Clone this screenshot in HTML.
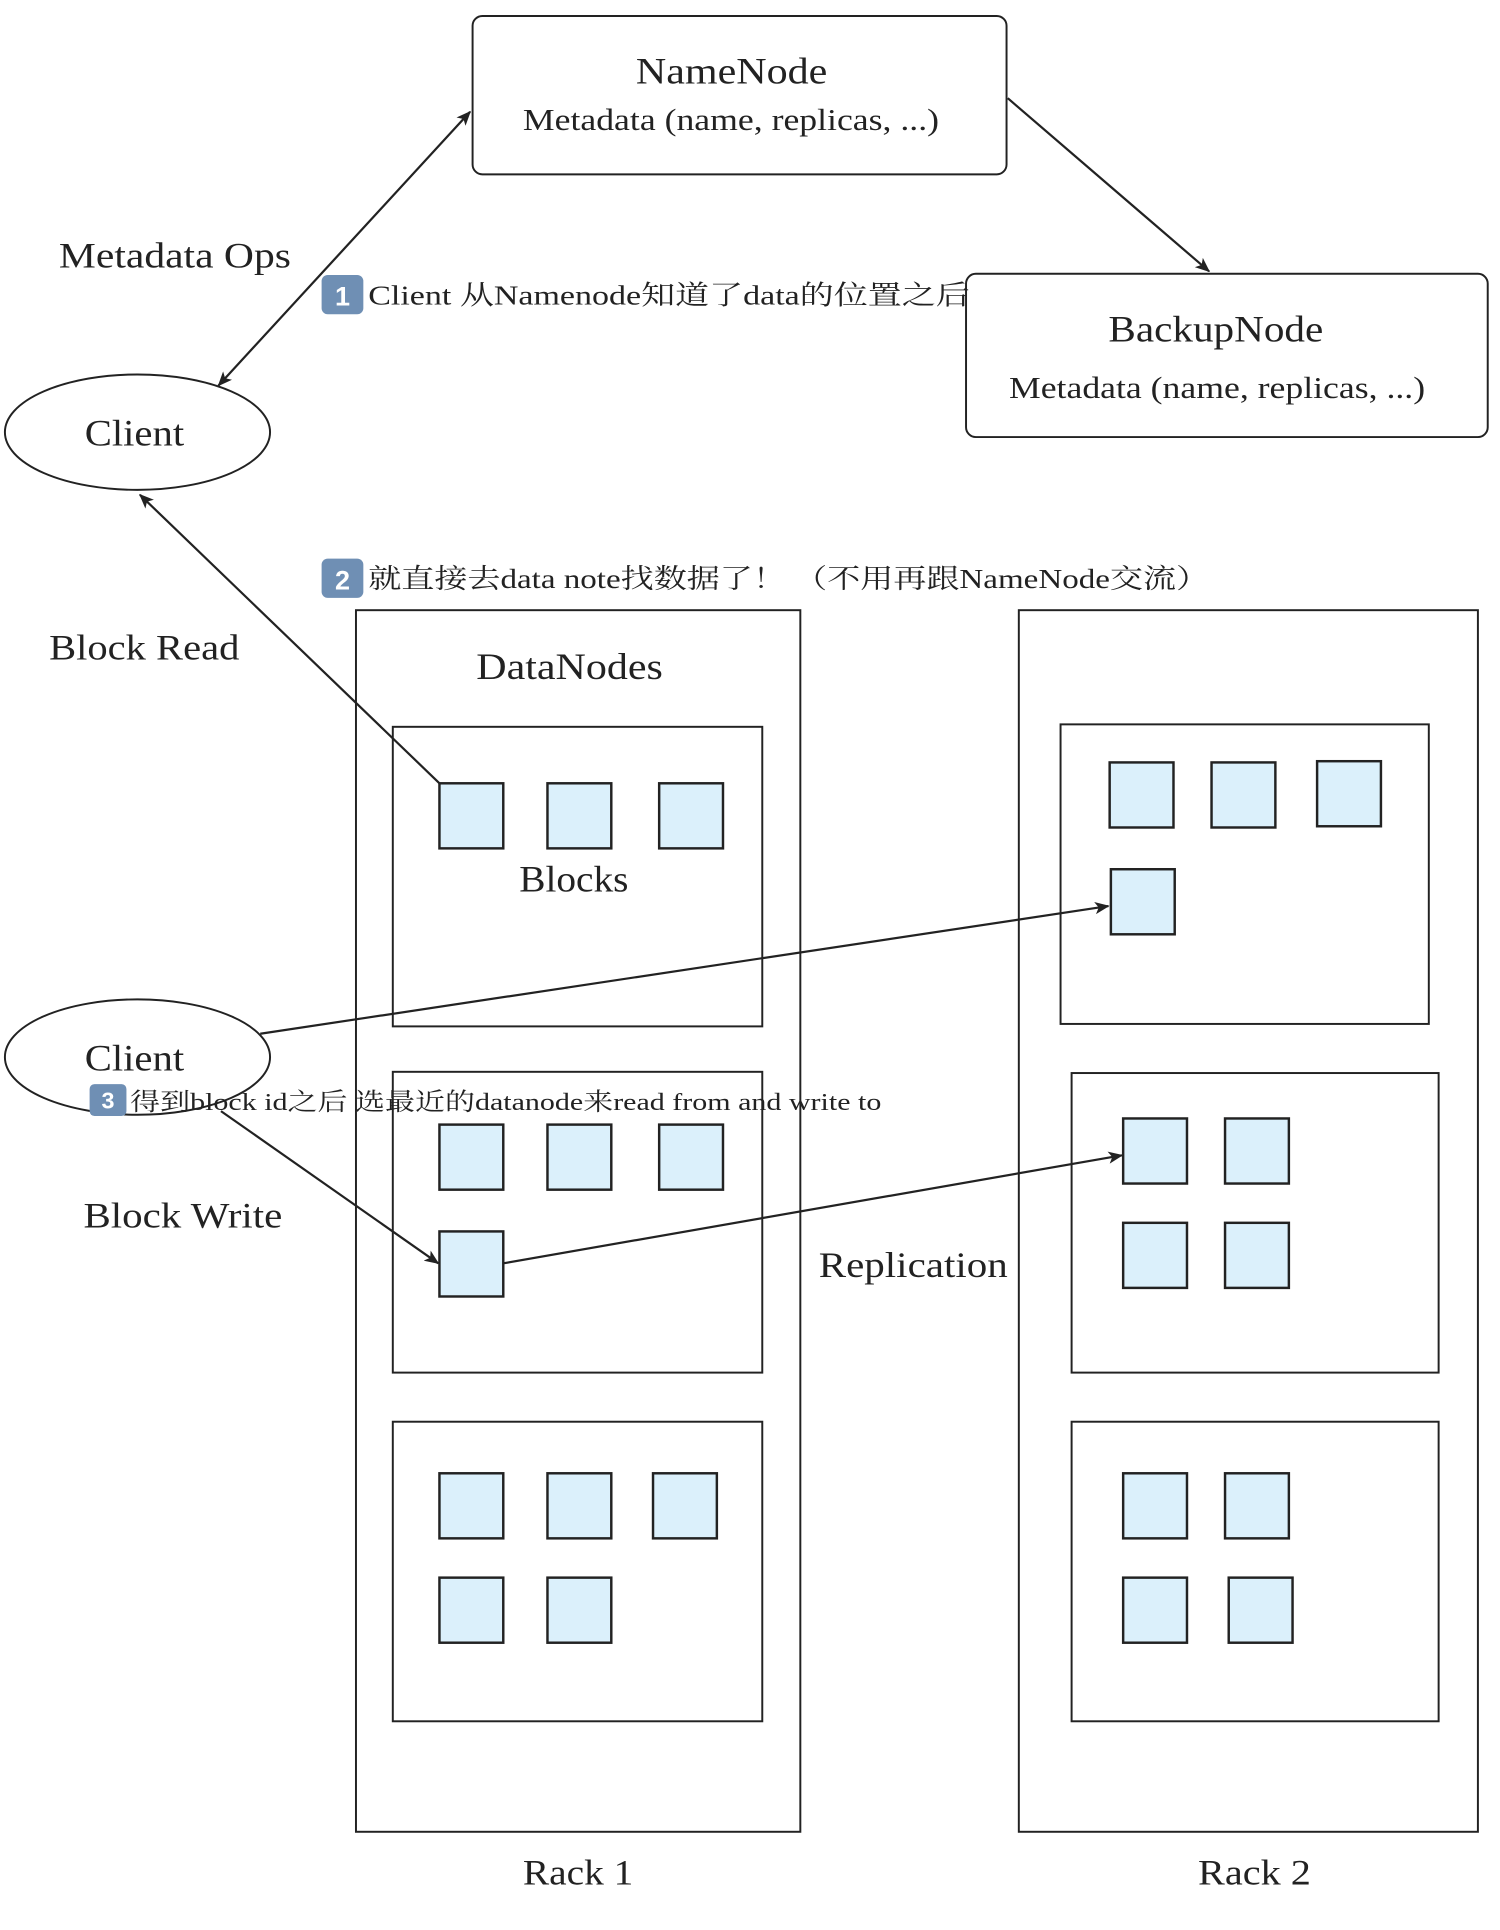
<!DOCTYPE html>
<html><head><meta charset="utf-8"><style>
html,body{margin:0;padding:0;background:#fff;}
svg{display:block;}
text{font-family:"Liberation Serif","Noto Serif CJK SC",serif;fill:#222;}
.b{fill:#dbf0fb;stroke:#222;stroke-width:2;}
.bx{fill:none;stroke:#222;stroke-width:1.6;}
.ln{stroke:#222;stroke-width:1.8;fill:none;}
</style></head><body>
<svg width="1500" height="1930" viewBox="0 0 1222 1572" preserveAspectRatio="none">
<defs><marker id="a" markerWidth="12" markerHeight="10" refX="11" refY="5" orient="auto-start-reverse" markerUnits="userSpaceOnUse"><path d="M0,0 L12,5 L0,10 L3,5 z" fill="#222"/></marker></defs>
<rect x="385" y="13" width="435" height="129" rx="8" class="bx"/>
<text x="518" y="68" font-size="30" textLength="156" lengthAdjust="spacingAndGlyphs">NameNode</text>
<text x="426" y="106" font-size="25" textLength="339" lengthAdjust="spacingAndGlyphs">Metadata (name, replicas, ...)</text>
<rect x="787" y="223" width="425" height="133" rx="8" class="bx"/>
<text x="903" y="278" font-size="30" textLength="175" lengthAdjust="spacingAndGlyphs">BackupNode</text>
<text x="822" y="324" font-size="25" textLength="339" lengthAdjust="spacingAndGlyphs">Metadata (name, replicas, ...)</text>
<line x1="821" y1="80" x2="985" y2="221" class="ln" marker-end="url(#a)"/>
<text x="48" y="218" font-size="29" textLength="189" lengthAdjust="spacingAndGlyphs">Metadata Ops</text>
<ellipse cx="112" cy="352" rx="108" ry="47" class="bx"/>
<text x="69" y="363" font-size="30" textLength="81" lengthAdjust="spacingAndGlyphs">Client</text>
<line x1="178" y1="314" x2="383" y2="91" class="ln" marker-end="url(#a)" marker-start="url(#a)"/>
<rect x="262" y="224" width="34" height="32" rx="5" fill="#6f8fb4"/><text x="279" y="249" font-size="22" text-anchor="middle" style="fill:#fff;font-family:'Liberation Sans',sans-serif;font-weight:bold">1</text>
<text x="300" y="248" font-size="22" textLength="490" lengthAdjust="spacingAndGlyphs">Client 从Namenode知道了data的位置之后</text>
<line x1="358" y1="638" x2="114" y2="403" class="ln" marker-end="url(#a)"/>
<rect x="262" y="455" width="34" height="32" rx="5" fill="#6f8fb4"/><text x="279" y="480" font-size="22" text-anchor="middle" style="fill:#fff;font-family:'Liberation Sans',sans-serif;font-weight:bold">2</text>
<text x="300" y="479" font-size="22" textLength="685" lengthAdjust="spacingAndGlyphs">就直接去data note找数据了！ （不用再跟NameNode交流）</text>
<text x="40" y="537" font-size="29" textLength="155" lengthAdjust="spacingAndGlyphs">Block Read</text>
<rect x="290" y="497" width="362" height="995" class="bx"/>
<rect x="830" y="497" width="374" height="995" class="bx"/>
<text x="388" y="553" font-size="30" textLength="152" lengthAdjust="spacingAndGlyphs">DataNodes</text>
<rect x="320" y="592" width="301" height="244" class="bx"/>
<rect x="320" y="873" width="301" height="245" class="bx"/>
<rect x="320" y="1158" width="301" height="244" class="bx"/>
<rect x="864" y="590" width="300" height="244" class="bx"/>
<rect x="873" y="874" width="299" height="244" class="bx"/>
<rect x="873" y="1158" width="299" height="244" class="bx"/>
<g>
<rect x="358" y="638" width="52" height="53" class="b"/><rect x="446" y="638" width="52" height="53" class="b"/><rect x="537" y="638" width="52" height="53" class="b"/>
<rect x="358" y="916" width="52" height="53" class="b"/><rect x="446" y="916" width="52" height="53" class="b"/><rect x="537" y="916" width="52" height="53" class="b"/><rect x="358" y="1003" width="52" height="53" class="b"/>
<rect x="358" y="1200" width="52" height="53" class="b"/><rect x="446" y="1200" width="52" height="53" class="b"/><rect x="532" y="1200" width="52" height="53" class="b"/><rect x="358" y="1285" width="52" height="53" class="b"/><rect x="446" y="1285" width="52" height="53" class="b"/>
<rect x="904" y="621" width="52" height="53" class="b"/><rect x="987" y="621" width="52" height="53" class="b"/><rect x="1073" y="620" width="52" height="53" class="b"/><rect x="905" y="708" width="52" height="53" class="b"/>
<rect x="915" y="911" width="52" height="53" class="b"/><rect x="998" y="911" width="52" height="53" class="b"/><rect x="915" y="996" width="52" height="53" class="b"/><rect x="998" y="996" width="52" height="53" class="b"/>
<rect x="915" y="1200" width="52" height="53" class="b"/><rect x="998" y="1200" width="52" height="53" class="b"/><rect x="915" y="1285" width="52" height="53" class="b"/><rect x="1001" y="1285" width="52" height="53" class="b"/>
</g>
<text x="423" y="726" font-size="30" textLength="89" lengthAdjust="spacingAndGlyphs">Blocks</text>
<ellipse cx="112" cy="861" rx="108" ry="47" class="bx"/>
<text x="69" y="872" font-size="30" textLength="81" lengthAdjust="spacingAndGlyphs">Client</text>
<line x1="212" y1="842" x2="903" y2="738" class="ln" marker-end="url(#a)"/>
<line x1="180" y1="905" x2="357" y2="1029" class="ln" marker-end="url(#a)"/>
<line x1="410" y1="1029" x2="914" y2="941" class="ln" marker-end="url(#a)"/>
<rect x="73" y="883" width="30" height="26" rx="4" fill="#6f8fb4"/><text x="88" y="903" font-size="19" text-anchor="middle" style="fill:#fff;font-family:'Liberation Sans',sans-serif;font-weight:bold">3</text>
<text x="106" y="904" font-size="20" textLength="612" lengthAdjust="spacingAndGlyphs">得到block id之后 选最近的datanode来read from and write to</text>
<text x="68" y="1000" font-size="29" textLength="162" lengthAdjust="spacingAndGlyphs">Block Write</text>
<text x="667" y="1040" font-size="29" textLength="154" lengthAdjust="spacingAndGlyphs">Replication</text>
<text x="426" y="1535" font-size="29" textLength="90" lengthAdjust="spacingAndGlyphs">Rack 1</text>
<text x="976" y="1535" font-size="29" textLength="92" lengthAdjust="spacingAndGlyphs">Rack 2</text>
</svg>
</body></html>
